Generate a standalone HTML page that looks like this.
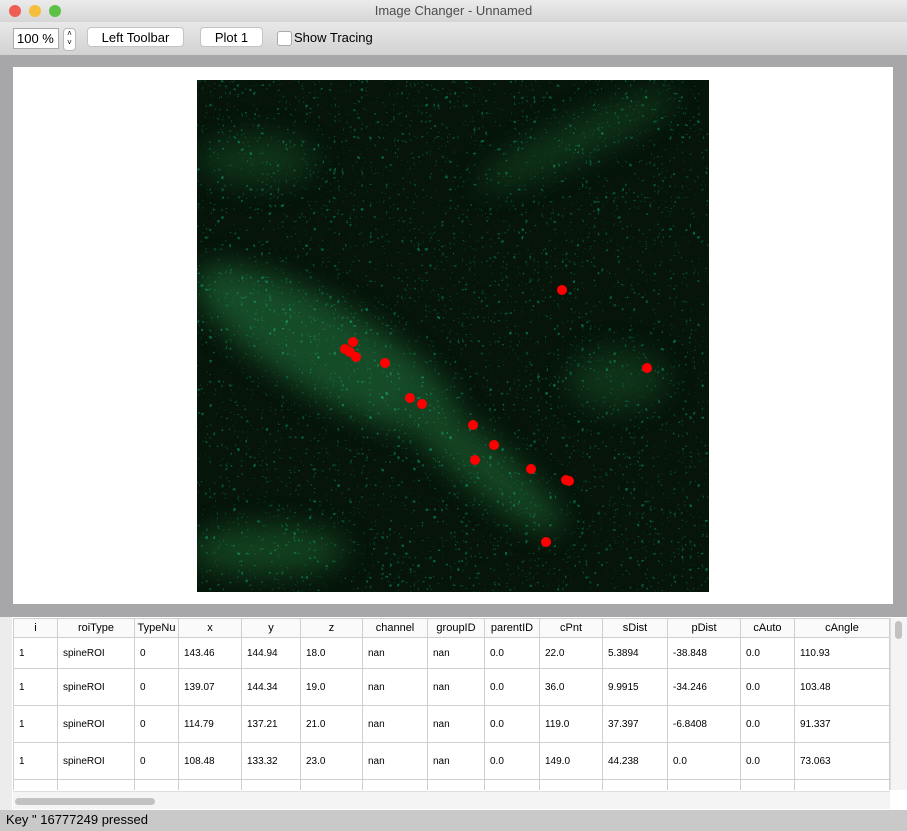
<!DOCTYPE html>
<html><head><meta charset="utf-8">
<style>
body{margin:0;width:907px;height:831px;overflow:hidden;font-family:"Liberation Sans",sans-serif;background:#ececec;position:relative}
.abs{position:absolute}
.btn{position:absolute;top:27px;height:20px;background:#fff;border:1px solid #c4c4c4;border-radius:4px;font-size:13px;text-align:center;line-height:19px;box-sizing:border-box}
table{border-collapse:collapse;font-size:10px;table-layout:fixed}
td,th{border:1px solid #cfcfcf;padding:0 0 0 5px;text-align:left;white-space:nowrap;overflow:hidden}
th{font-weight:normal;text-align:center;height:18px;font-size:11px;background:#fafafa;padding:0}
td{height:36px}
tr.r1 td{height:30px}
</style></head><body>
<div class="abs" style="left:0;top:0;width:907px;height:22px;background:linear-gradient(#ebebeb,#d6d6d6);text-align:center;font-size:13px;line-height:22px;color:#4d4d4d">Image Changer - Unnamed</div>
<div class="abs" style="left:9px;top:5px;width:12px;height:12px;border-radius:50%;background:#ee5c54"></div>
<div class="abs" style="left:29px;top:5px;width:12px;height:12px;border-radius:50%;background:#f5be3a"></div>
<div class="abs" style="left:49px;top:5px;width:12px;height:12px;border-radius:50%;background:#5dc145"></div>
<div class="abs" style="left:0;top:22px;width:907px;height:33px;background:linear-gradient(#e8e8e8,#d2d2d2)"></div>
<div class="abs" style="left:13px;top:28px;width:46px;height:21px;background:#fff;border:1px solid #aaa;box-sizing:border-box;font-size:13px;line-height:20px;padding-left:3px">100 %</div>
<div class="abs" style="left:63px;top:28px;width:11px;height:21px;background:#fff;border:1px solid #bbb;border-radius:4px;font-size:8px;text-align:center;line-height:9px">˄<br>˅</div>
<div class="btn" style="left:87px;width:97px">Left Toolbar</div>
<div class="btn" style="left:200px;width:63px">Plot 1</div>
<div class="abs" style="left:277px;top:31px;width:13px;height:13px;background:#fff;border:1px solid #aaa;border-radius:3px"></div>
<div class="abs" style="left:294px;top:30px;font-size:13px">Show Tracing</div>
<div class="abs" style="left:0;top:55px;width:907px;height:562px;background:#a7a7aa"></div>
<div class="abs" style="left:13px;top:67px;width:880px;height:537px;background:#fff"></div>
<svg class="abs" style="left:197px;top:80px" width="512" height="512">
<defs>
<filter id="b"><feGaussianBlur stdDeviation="14"/></filter>
<filter id="n"><feTurbulence baseFrequency="0.25" numOctaves="2" seed="4"/><feColorMatrix values="0 0 0 0 0  0 0 0 1.6 -0.8  0 0 0 0.8 -0.4  0 0 0 0 1"/></filter>
</defs>
<rect width="512" height="512" fill="#061409"/>
<g filter="url(#b)" opacity="0.42">
<ellipse cx="130" cy="270" rx="150" ry="45" fill="#2f9a55" transform="rotate(30 130 270)"/>
<ellipse cx="280" cy="380" rx="110" ry="25" fill="#2a8a48" transform="rotate(40 280 380)"/>
<ellipse cx="70" cy="470" rx="80" ry="25" fill="#268040"/>
<ellipse cx="380" cy="60" rx="110" ry="20" fill="#1a5e32" transform="rotate(-25 380 60)"/>
<ellipse cx="420" cy="300" rx="50" ry="30" fill="#1a5e32"/>
<ellipse cx="60" cy="80" rx="60" ry="25" fill="#1a5e32"/>
</g>
<rect width="512" height="512" filter="url(#n)" opacity="0.55" style="mix-blend-mode:screen"/>
<g id="dots"></g>
</svg>
<div class="abs" style="left:0;top:617px;width:907px;height:193px;background:#fff"></div>
<div class="abs" style="left:0;top:617px;width:12px;height:193px;background:#ececec"></div>
<div class="abs" style="left:13px;top:618px;width:877px;height:172px;overflow:hidden">
<table id="tbl"></table></div>
<div class="abs" style="left:890px;top:618px;width:16px;height:172px;background:#f4f4f4;border-left:1px solid #ddd"><div style="margin:3px 4px;width:7px;height:18px;border-radius:4px;background:#c2c2c2"></div></div>
<div class="abs" style="left:13px;top:791px;width:877px;height:17px;background:#f4f4f4;border-top:1px solid #ddd"><div style="margin:6px 0 0 2px;width:140px;height:7px;border-radius:4px;background:#c2c2c2"></div></div>
<div class="abs" style="left:0;top:810px;width:907px;height:21px;background:#c9c9c9;font-size:13px;line-height:20px;padding-left:6px">Key " 16777249 pressed</div>
<script>
const dotX=[365,156,148,153,159,188,450,213,225,276,297,278,334,369,372,349];
const dotY=[210,262,269,272,277,283,288,318,324,345,365,380,389,400,401,462];
const g=document.getElementById('dots');
for(let i=0;i<dotX.length;i++){const c=document.createElementNS('http://www.w3.org/2000/svg','circle');
c.setAttribute('cx',dotX[i]);c.setAttribute('cy',dotY[i]);c.setAttribute('r',5);c.setAttribute('fill','#ff0000');


g.appendChild(c);}
const cols=['i','roiType','TypeNu','x','y','z','channel','groupID','parentID','cPnt','sDist','pDist','cAuto','cAngle'];
const widths=[44,77,44,63,59,62,65,57,55,63,65,73,54,95];
const rows=[['1','spineROI','0','143.46','144.94','18.0','nan','nan','0.0','22.0','5.3894','-38.848','0.0','110.93'],
['1','spineROI','0','139.07','144.34','19.0','nan','nan','0.0','36.0','9.9915','-34.246','0.0','103.48'],
['1','spineROI','0','114.79','137.21','21.0','nan','nan','0.0','119.0','37.397','-6.8408','0.0','91.337'],
['1','spineROI','0','108.48','133.32','23.0','nan','nan','0.0','149.0','44.238','0.0','0.0','73.063'],
['1','spineROI','0','106.6','131.3','22.0','nan','nan','0.0','160.0','47.341','3.1037','0.0','83.609']];
const t=document.getElementById('tbl');
t.style.width=widths.reduce((a,b)=>a+b)+'px';
let h='<colgroup>';widths.forEach(w=>h+=`<col style="width:${w}px">`);h+='</colgroup><tr>';
cols.forEach(c=>h+=`<th>${c}</th>`);h+='</tr>';
rows.forEach((r,k)=>{h+=`<tr class="${k==0?'r1':''}">`;r.forEach(v=>h+=`<td>${v}</td>`);h+='</tr>';});
t.innerHTML=h;
t.querySelectorAll('th').forEach(e=>{});
t.querySelectorAll('td').forEach(e=>{});
</script>
</body></html>
